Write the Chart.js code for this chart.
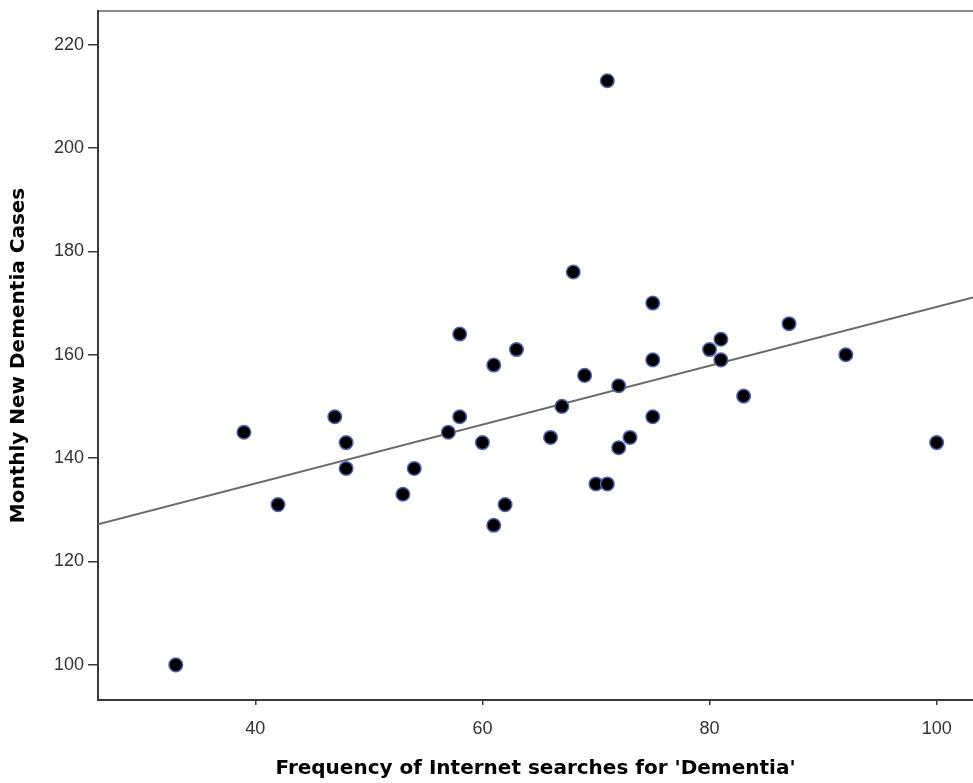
<!DOCTYPE html>
<html>
<head>
<meta charset="utf-8">
<script src="https://cdn.jsdelivr.net/npm/chart.js@4.4.0/dist/chart.umd.min.js"></script>
<style>
  html, body { margin: 0; padding: 0; background: #fff; }
  #c { display: block; }
</style>
</head>
<body>
<canvas id="c" width="973" height="783"></canvas>
<script>
// Data
const searchFreq = [33, 39, 42, 47, 48, 48, 53, 54, 57, 58, 58, 60, 61, 61, 62, 63, 66, 67, 68, 69, 70, 71, 71, 72, 72, 73, 75, 75, 75, 80, 81, 81, 83, 87, 92, 100];
const newCases   = [100, 145, 131, 148, 143, 138, 133, 138, 145, 164, 148, 143, 158, 127, 131, 161, 144, 150, 176, 156, 135, 135, 213, 154, 142, 144, 170, 159, 148, 161, 163, 159, 152, 166, 160, 143];
// Fit line endpoints (read at the plot edges)
const fitX = [26.15, 103.2];
const fitY = [127.2, 171.1];
const xTicks = [40, 60, 80, 100];
const yTicks = [100, 120, 140, 160, 180, 200, 220];
const xTitle = "Frequency of Internet searches for 'Dementia'";
const yTitle = "Monthly New Dementia Cases";

const points = searchFreq.map((x, i) => ({ x: x, y: newCases[i] }));
const fit = fitX.map((x, i) => ({ x: x, y: fitY[i] }));

const axisColor = '#3a3a3a';
const tickFont = { family: 'Liberation Sans, Arial, sans-serif', size: 18 };
const titleFont = { family: 'DejaVu Sans, Verdana, sans-serif', size: 20, weight: 'bold' };
const noPad = s => { s.paddingTop = 0; s.paddingBottom = 0; s.paddingLeft = 0; s.paddingRight = 0; };

new Chart(document.getElementById('c'), {
  type: 'scatter',
  data: {
    datasets: [
      {
        type: 'line',
        data: fit,
        borderColor: '#6b6b6b',
        borderWidth: 2,
        pointRadius: 0,
        fill: false,
        order: 2
      },
      {
        data: points,
        backgroundColor: '#000000',
        borderColor: '#5464b4',
        borderWidth: 1.5,
        pointRadius: 6.8,
        order: 1
      }
    ]
  },
  options: {
    responsive: false,
    animation: false,
    events: [],
    layout: { autoPadding: false, padding: 0 },
    plugins: { legend: { display: false }, tooltip: { enabled: false } },
    scales: {
      x: {
        type: 'linear',
        position: 'bottom',
        min: 26.15,
        max: 103.2,
        afterBuildTicks: s => { s.ticks = xTicks.map(v => ({ value: v })); },
        afterFit: s => { s.height = 83; noPad(s); },
        grid: { display: true, drawOnChartArea: false, drawTicks: true, tickLength: 5, color: axisColor, lineWidth: 1.5 },
        border: { display: true, color: axisColor, width: 2 },
        ticks: { color: '#333', font: tickFont, padding: 13, maxRotation: 0 },
        title: { display: true, text: xTitle, color: '#000', font: titleFont, padding: { top: 0, bottom: 2 } }
      },
      xTop: {
        type: 'linear',
        position: 'top',
        min: 26.15,
        max: 103.2,
        afterFit: s => { s.height = 11; noPad(s); },
        grid: { display: false },
        border: { display: true, color: '#8a8a8a', width: 2 },
        ticks: { display: false }
      },
      y: {
        type: 'linear',
        position: 'left',
        min: 93.2,
        max: 226.5,
        afterBuildTicks: s => { s.ticks = yTicks.map(v => ({ value: v })); },
        afterFit: s => { s.width = 98; noPad(s); },
        grid: { display: true, drawOnChartArea: false, drawTicks: true, tickLength: 10, color: axisColor, lineWidth: 1.5 },
        border: { display: true, color: axisColor, width: 2 },
        ticks: { color: '#333', font: tickFont, padding: 4 },
        title: { display: true, text: yTitle, color: '#000', font: titleFont, padding: { top: 6.5, bottom: 0 } }
      }
    }
  }
});
</script>
</body>
</html>
